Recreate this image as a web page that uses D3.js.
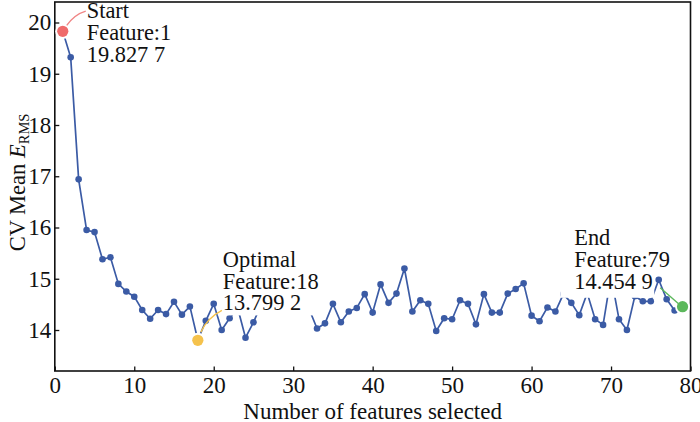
<!DOCTYPE html>
<html><head><meta charset="utf-8">
<script src="https://cdn.jsdelivr.net/npm/d3@7"></script>
<style>
html,body{margin:0;padding:0;background:#fff;}
svg{display:block;}
svg text{font-family:'Liberation Serif','Times New Roman',Times,serif;}
</style></head>
<body>
<svg id="chart" width="700" height="422"></svg>
<script>
const features = [1,2,3,4,5,6,7,8,9,10,11,12,13,14,15,16,17,18,19,20,
  21,22,23,24,25,26,27,28,29,30,31,32,33,34,35,36,37,38,39,40,
  41,42,43,44,45,46,47,48,49,50,51,52,53,54,55,56,57,58,59,60,
  61,62,63,64,65,66,67,68,69,70,71,72,73,74,75,76,77,78,79];
const cvMean = [19.8277,19.32,16.94,15.95,15.91,15.38,15.42,14.90,14.75,14.65,
  14.39,14.22,14.39,14.31,14.55,14.30,14.46,13.7992,14.18,14.51,
  14.00,14.23,14.44,13.85,14.15,14.51,14.62,14.48,14.70,14.55,
  14.66,14.41,14.03,14.13,14.51,14.15,14.36,14.43,14.70,14.34,
  14.89,14.53,14.71,15.20,14.36,14.58,14.51,13.98,14.23,14.21,
  14.58,14.51,14.11,14.70,14.34,14.34,14.71,14.80,14.91,14.28,
  14.17,14.44,14.36,14.70,14.53,14.29,14.72,14.21,14.10,15.05,
  14.21,14.00,14.66,14.56,14.56,14.98,14.60,14.38,14.4549];
const xTicks = [0,10,20,30,40,50,60,70,80];
const yTicks = [14,15,16,17,18,19,20];
const highlightNames = ["Start","Optimal","End"];
const highlightFeatures = [1,18,79];
const highlightLabels = ["19.827 7","13.799 2","14.454 9"];

const data = features.map((f,i)=>({f, v:cvMean[i]}));
const svg = d3.select("#chart");
const x = d3.scaleLinear().domain([0,80]).range([54.8,690.5]);
const y = d3.scaleLinear().domain([13.2,20.4]).range([371,2]);
const FS = 23, AFS = 22.4;

// frame
svg.append("rect").attr("x",x.range()[0]).attr("y",y.range()[1])
  .attr("width",x.range()[1]-x.range()[0]).attr("height",y.range()[0]-y.range()[1])
  .attr("fill","none").attr("stroke","#111").attr("stroke-width",1.6);

// x axis (ticks inward)
const gx = svg.append("g").attr("transform",`translate(0,${y.range()[0]})`)
  .call(d3.axisBottom(x).tickValues(xTicks).tickSizeInner(-4.5).tickSizeOuter(0).tickPadding(5.5));
gx.attr("font-size", FS);
gx.select(".domain").remove();
gx.selectAll(".tick line").attr("stroke","#111").attr("stroke-width",1.3);
gx.selectAll(".tick text").attr("fill","#111");

// y axis (ticks inward)
const gy = svg.append("g").attr("transform",`translate(${x.range()[0]},0)`)
  .call(d3.axisLeft(y).tickValues(yTicks).tickSizeInner(-4.5).tickSizeOuter(0).tickPadding(3.5));
gy.attr("font-size", FS);
gy.select(".domain").remove();
gy.selectAll(".tick line").attr("stroke","#111").attr("stroke-width",1.3);
gy.selectAll(".tick text").attr("fill","#111");

// axis titles
svg.append("text").attr("x",(x.range()[0]+x.range()[1])/2).attr("y",419)
  .attr("text-anchor","middle").attr("font-size",FS).attr("fill","#111")
  .text("Number of features selected");
const yl = svg.append("text").attr("transform",`translate(24.5,${(y.range()[0]+y.range()[1])/2-4}) rotate(-90)`)
  .attr("text-anchor","middle").attr("font-size",22.5).attr("fill","#111");
yl.append("tspan").text("CV Mean ");
yl.append("tspan").attr("font-style","italic").text("E");
yl.append("tspan").attr("font-size",14.5).attr("dy",4).text("RMS");

// line + points
const blue = "#3b5ba5";
svg.append("path").datum(data)
  .attr("d", d3.line().x(d=>x(d.f)).y(d=>y(d.v)))
  .attr("fill","none").attr("stroke",blue).attr("stroke-width",1.7);
svg.append("g").selectAll("circle").data(data.filter(d=>!highlightFeatures.includes(d.f)))
  .join("circle").attr("cx",d=>x(d.f)).attr("cy",d=>y(d.v)).attr("r",3.3).attr("fill",blue);

// annotations
const colors = ["#ef6b6b","#f5c24c","#5cb85c"];
const lineColors = ["#f08585","#f5c24c","#5cb85c"];
const layout = [
  {dx:24, dy:-13.2, boxL:-3, boxR:80, boxB:5},
  {dx:25, dy:-73.5, boxL:-5, boxR:97, boxB:5},
  {dx:-108.3, dy:-61.5, boxL:-14, boxR:80, boxB:9}
];
const lh = 21.8;
highlightFeatures.forEach((f,i)=>{
  const d = data.find(e=>e.f===f);
  const px = x(d.f), py = y(d.v);
  const L = layout[i];
  const tx = px + L.dx, ty = py + L.dy;
  if (i>0) {
    svg.append("rect").attr("x",tx+L.boxL).attr("y",ty-20)
      .attr("width",L.boxR-L.boxL).attr("height",2*lh+20+L.boxB)
      .attr("fill","#fff");
  }
  const t = svg.append("text").attr("font-size",AFS).attr("fill","#111");
  [highlightNames[i], "Feature:"+f, highlightLabels[i]].forEach((s,k)=>{
    t.append("tspan").attr("x",tx).attr("y",ty+k*lh).text(s);
  });
  // white halo behind the highlighted marker
  svg.append("circle").attr("cx",px).attr("cy",py).attr("r",7.5).attr("fill","#fff");
  // leader line
  let p;
  if (i===0) p = `M${px+4},${py-6} Q${px+12},${py-17} ${tx-1},${ty-7}`;
  else if (i===1) p = `M${px+3},${py-8} Q${px+9},${py-22} ${tx-1},${ty+2*lh}`;
  else p = `M${tx+86},${ty+2*lh-1} L${px-4},${py-3}`;
  svg.append("path").attr("d",p).attr("fill","none")
    .attr("stroke",lineColors[i]).attr("stroke-width",1.4);
  svg.append("circle").attr("cx",px).attr("cy",py).attr("r",5.6).attr("fill",colors[i]);
});
</script>
</body></html>
